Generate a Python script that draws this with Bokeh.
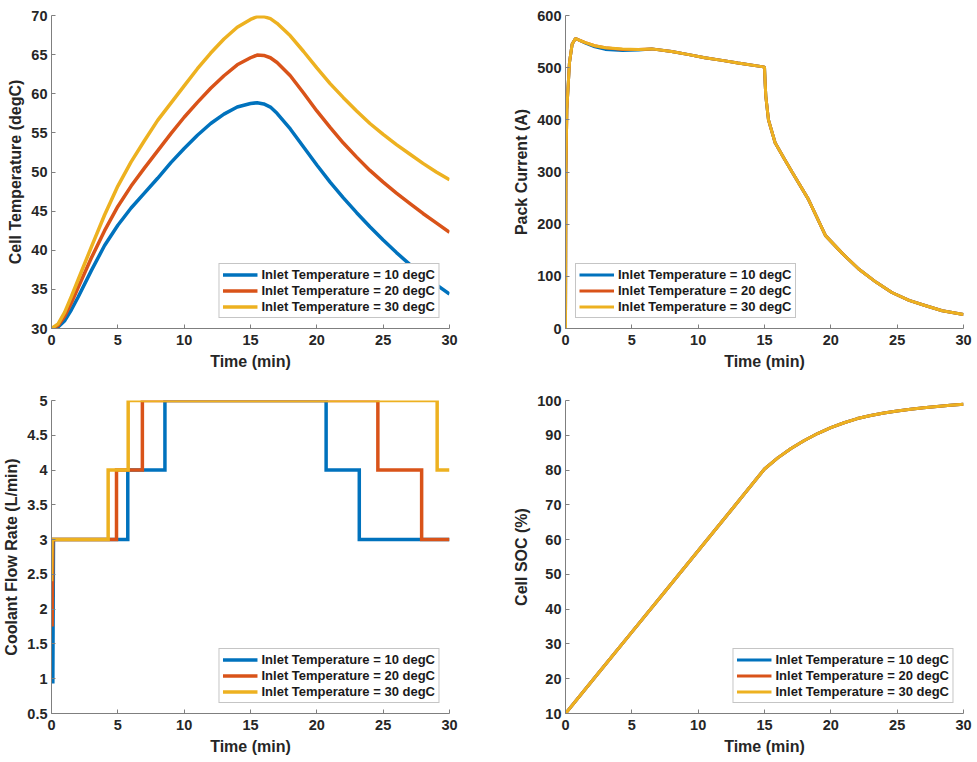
from bokeh.plotting import figure
from bokeh.layouts import column, row
from bokeh.models import Range1d, FixedTicker
from bokeh.embed import file_html
from bokeh.resources import INLINE

COLORS = ["#0072BD", "#D95319", "#EDB120"]
LABELS = ["Inlet Temperature = 10 degC", "Inlet Temperature = 20 degC", "Inlet Temperature = 30 degC"]

# ---- Cell temperature (degC) ----
temp_time = [0, 0.5, 1, 1.5, 2, 3, 4, 5, 6, 7, 8, 9, 10, 11, 12, 13, 14, 15, 15.5, 16, 16.5,
             17, 18, 19, 20, 21, 22, 23, 24, 25, 26, 27, 28, 29, 30]
temp_10 = [30, 30.2, 31.0, 32.4, 34.0, 37.4, 40.6, 43.2, 45.4, 47.3, 49.2, 51.2, 53.0, 54.7, 56.2,
           57.4, 58.3, 58.75, 58.85, 58.7, 58.3, 57.5, 55.5, 53.2, 50.9, 48.7, 46.7, 44.8, 43.0,
           41.3, 39.7, 38.2, 36.8, 35.6, 34.4]
temp_20 = [30, 30.4, 31.6, 33.3, 35.2, 39.0, 42.5, 45.6, 48.2, 50.5, 52.7, 54.9, 57.0, 58.9, 60.7,
           62.3, 63.7, 64.6, 64.95, 64.9, 64.6, 64.0, 62.3, 60.1, 57.8, 55.7, 53.7, 51.9, 50.2,
           48.7, 47.3, 46.0, 44.7, 43.5, 42.3]
temp_30 = [30, 30.6, 32.1, 34.1, 36.2, 40.4, 44.5, 48.2, 51.3, 54.0, 56.6, 58.8, 61.0, 63.2, 65.2,
           67.0, 68.5, 69.5, 69.85, 69.85, 69.6, 69.0, 67.4, 65.4, 63.3, 61.3, 59.5, 57.8, 56.2,
           54.8, 53.5, 52.3, 51.1, 50.0, 49.0]

# ---- Pack current (A) ----
current_time = [0, 0.03, 0.1, 0.3, 0.5, 0.75, 1.0, 1.5, 2.2, 3, 4.3, 5.5, 6.5, 8, 9.3, 10.5, 11.8,
                13, 14.8, 15.0, 15.05, 15.1, 15.3, 15.8, 16.5, 17.1, 18.3, 19.6, 20.9, 22.1, 23.4,
                24.6, 25.9, 27.1, 28.4, 30]
current_10 = [0, 300, 420, 510, 545, 556, 553, 547, 540, 535, 533, 534, 536, 531, 525, 519, 514,
              509, 502, 501, 470, 445, 400, 356, 325, 299, 248, 178, 143, 114, 89, 69, 54, 44, 34, 27]
current_20 = [0, 300, 420, 510, 545, 556, 553, 548, 542, 538, 535, 535, 536, 531, 525, 519, 514,
              509, 502, 501, 470, 445, 400, 356, 325, 299, 248, 178, 143, 114, 89, 69, 54, 44, 34, 27]
current_30 = [0, 300, 420, 510, 545, 556, 553, 548, 542, 538, 536, 535, 536, 531, 525, 519, 514,
              509, 502, 501, 470, 445, 400, 356, 325, 299, 248, 178, 143, 114, 89, 69, 54, 44, 34, 27]

# ---- Coolant flow rate (L/min) ----
flow_time_10 = [0.1, 0.15, 5.75, 5.75, 8.55, 8.55, 20.7, 20.7, 23.2, 23.2, 30]
flow_10 = [0.93, 3, 3, 4, 4, 5, 5, 4, 4, 3, 3]
flow_time_20 = [0.05, 0.1, 4.9, 4.9, 6.85, 6.85, 24.6, 24.6, 27.9, 27.9, 30]
flow_20 = [1.75, 3, 3, 4, 4, 5, 5, 4, 4, 3, 3]
flow_time_30 = [0.0, 0.05, 4.27, 4.27, 5.78, 5.78, 29.07, 29.07, 30]
flow_30 = [2.4, 3, 3, 4, 4, 5, 5, 4, 4]

# ---- Cell SOC (%) ----
soc_time = [0, 2.5, 5, 7.5, 10, 12.5, 15, 16, 17, 18, 19, 20, 21, 22, 23, 24, 25, 26, 27, 28, 29, 30]
soc_10 = [10, 21.7, 33.4, 45.1, 56.8, 68.5, 80.3, 83.5, 86.2, 88.5, 90.5, 92.2, 93.6, 94.8, 95.7,
          96.4, 97.0, 97.5, 97.9, 98.3, 98.6, 98.9]
soc_20 = list(soc_10)
soc_30 = list(soc_10)

x_ticks = [0, 5, 10, 15, 20, 25, 30]
temp_ticks = [30, 35, 40, 45, 50, 55, 60, 65, 70]
current_ticks = [0, 100, 200, 300, 400, 500, 600]
flow_ticks = [0.5, 1, 1.5, 2, 2.5, 3, 3.5, 4, 4.5, 5]
soc_ticks = [10, 20, 30, 40, 50, 60, 70, 80, 90, 100]

FONT = "Liberation Sans"
TXT = "#262626"
AXC = "#7f7f7f"


def make_fig(width, height, left, right, top, bottom, yr, yticks, ylabel):
    p = figure(width=width, height=height, x_range=Range1d(0, 30), y_range=Range1d(*yr),
               output_backend="svg", toolbar_location=None,
               min_border_left=left, min_border_right=right,
               min_border_top=top, min_border_bottom=bottom)
    p.outline_line_color = None
    p.grid.visible = False
    p.background_fill_color = "white"
    p.border_fill_color = "white"
    p.xaxis.ticker = FixedTicker(ticks=x_ticks)
    p.yaxis.ticker = FixedTicker(ticks=yticks)
    p.xaxis.axis_label = "Time (min)"
    p.yaxis.axis_label = ylabel
    for ax in p.axis:
        ax.axis_line_color = AXC
        ax.axis_line_width = 1
        ax.major_tick_line_color = AXC
        ax.major_tick_in = 4
        ax.major_tick_out = 0
        ax.minor_tick_line_color = None
        ax.major_label_text_font = FONT
        ax.major_label_text_font_style = "bold"
        ax.major_label_text_font_size = "14.5px"
        ax.major_label_text_color = TXT
        ax.axis_label_text_font = FONT
        ax.axis_label_text_font_style = "bold"
        ax.axis_label_text_font_size = "16px"
        ax.axis_label_text_color = TXT
    p.xaxis.major_label_standoff = 6
    p.xaxis.axis_label_standoff = 5
    p.yaxis.major_label_standoff = 4
    p.yaxis.axis_label_standoff = 4
    return p


def finish_legend(p, loc):
    lg = p.legend[0]
    lg.location = loc
    lg.margin = 10
    lg.padding = 3
    lg.spacing = 1
    lg.glyph_width = 35
    lg.glyph_height = 15
    lg.label_height = 15
    lg.label_standoff = 4
    lg.label_text_font = FONT
    lg.label_text_font_style = "bold"
    lg.label_text_font_size = "13px"
    lg.label_text_color = "#1a1a1a"
    lg.border_line_color = "#8c8c8c"
    lg.border_line_width = 1
    lg.background_fill_color = "white"
    lg.background_fill_alpha = 1.0


LW = 3.5

p1 = make_fig(490, 380, 51, 41, 15, 52, (30, 70), temp_ticks, "Cell Temperature (degC)")
for ys, c, lab in zip([temp_10, temp_20, temp_30], COLORS, LABELS):
    p1.line(temp_time, ys, color=c, line_width=LW, legend_label=lab)
finish_legend(p1, "bottom_right")

p2 = make_fig(487, 380, 75, 14, 14, 52, (0, 600), current_ticks, "Pack Current (A)")
for ys, c, lab in zip([current_10, current_20, current_30], COLORS, LABELS):
    p2.line(current_time, ys, color=c, line_width=3, legend_label=lab)
finish_legend(p2, "bottom_left")

p3 = make_fig(490, 382, 51, 41, 19, 49, (0.5, 5), flow_ticks, "Coolant Flow Rate (L/min)")
p3.yaxis.major_label_overrides = {1: "1", 2: "2", 3: "3", 4: "4", 5: "5",
                                  0.5: "0.5", 1.5: "1.5", 2.5: "2.5", 3.5: "3.5", 4.5: "4.5"}
for xs, ys, c, lab in zip([flow_time_10, flow_time_20, flow_time_30], [flow_10, flow_20, flow_30], COLORS, LABELS):
    p3.line(xs, ys, color=c, line_width=LW, legend_label=lab, line_join="miter")
finish_legend(p3, "bottom_right")

p4 = make_fig(487, 382, 75, 14, 20, 49, (10, 100), soc_ticks, "Cell SOC (%)")
for ys, c, lab in zip([soc_10, soc_20, soc_30], COLORS, LABELS):
    p4.line(soc_time, ys, color=c, line_width=3, legend_label=lab)
finish_legend(p4, "bottom_right")

layout = column(row(p1, p2), row(p3, p4))
open("out.html", "w").write(file_html(layout, INLINE))
